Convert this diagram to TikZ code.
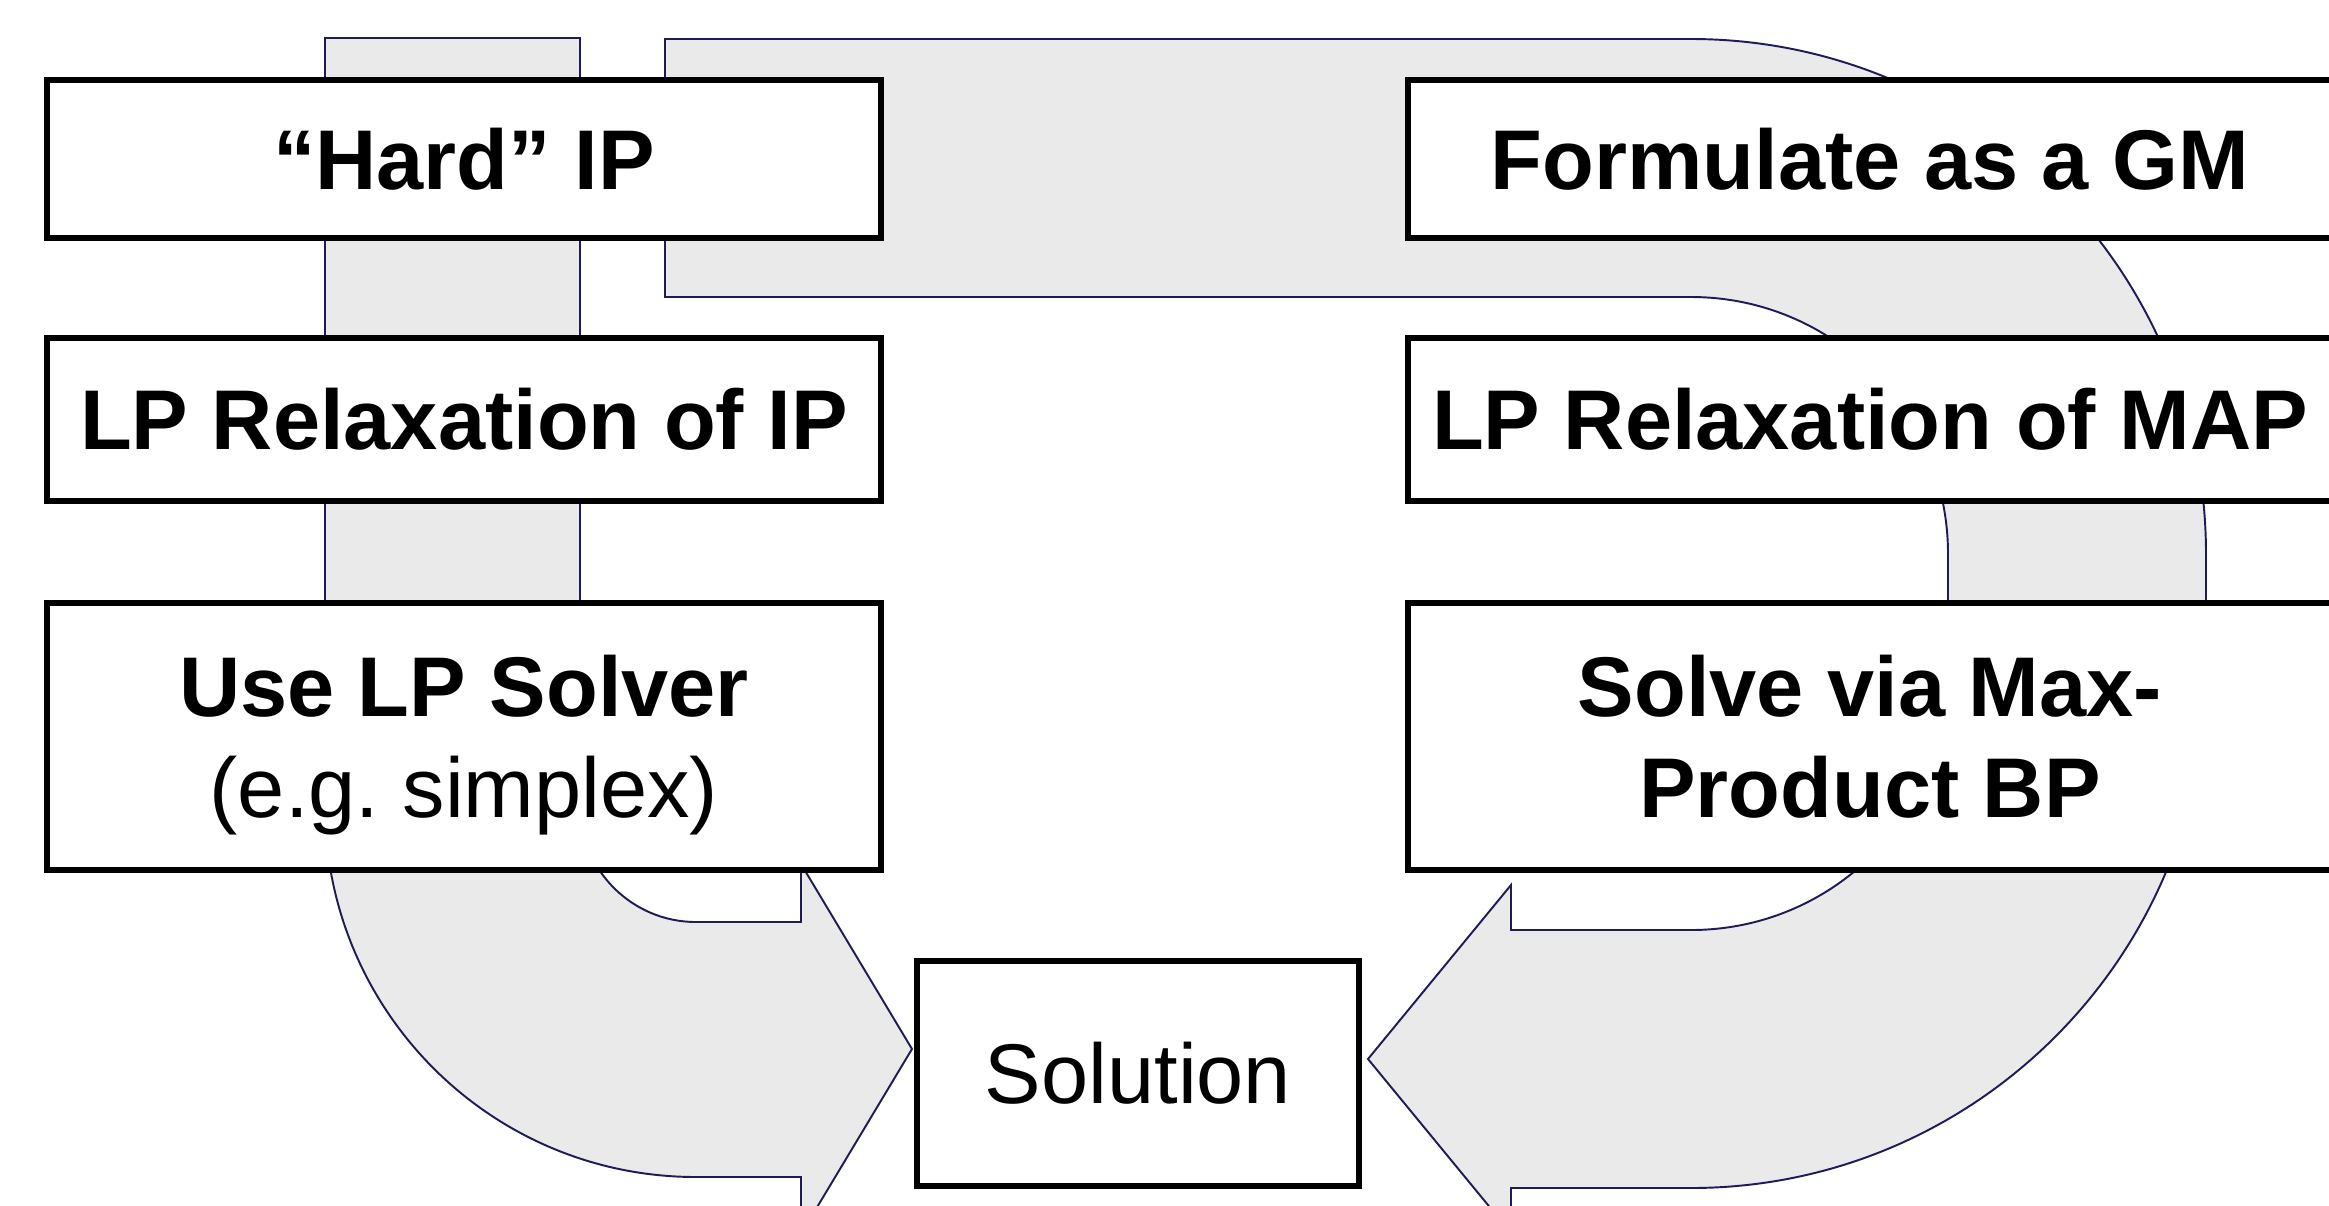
\documentclass[tikz,border=0pt]{standalone}
\usepackage{fontspec}
\setmainfont{Liberation Sans}
\usetikzlibrary{shapes,arrows}
\definecolor{bandfill}{RGB}{234,234,234}
\definecolor{bandline}{RGB}{30,28,86}
\newcommand{\boxfont}{\fontsize{24.1}{28.7}\selectfont}
\tikzset{
  Step/.style = {draw=black, fill=white, line width=1.8pt, align=center,
                 inner sep=0pt, font=\boxfont\bfseries},
  Band/.style = {fill=bandfill, draw=bandline, line width=0.55pt, line join=miter}
}

\begin{document}
\begin{tikzpicture}[x=0.01cm,y=-0.01cm]
	\useasboundingbox (0,0) rectangle (2329,1205);
	\clip (0,0) rectangle (2329,1205);
	% left band: IP route down to the solution
	\draw[Band] (325,38) -- (580,38) -- (580,806)
	  .. controls (580,870) and (632,922) .. (696,922) -- (801,922)
	  -- (801,864) -- (912,1049) -- (801,1234) -- (801,1177) -- (696,1177)
	  .. controls (491,1177) and (325,1011) .. (325,806) -- cycle;
	% right band: GM route round to the solution
	\draw[Band] (665,39) -- (1691,39)
	  .. controls (1975,39) and (2206,270) .. (2206,554) -- (2206,673)
	  .. controls (2206,957) and (1975,1188) .. (1691,1188) -- (1511,1188)
	  -- (1511,1233) -- (1368,1059) -- (1511,885) -- (1511,930) -- (1691,930)
	  .. controls (1833,930) and (1948,815) .. (1948,673) -- (1948,554)
	  .. controls (1948,412) and (1833,297) .. (1691,297) -- (665,297) -- cycle;
	% boxes
	\node[Step, minimum width=8.34cm, minimum height=1.58cm] (hard) at (464,159) {“Hard” IP};
	\node[Step, minimum width=8.34cm, minimum height=1.63cm] (lpip) at (464,419.5) {LP Relaxation of IP};
	\node[Step, minimum width=8.34cm, minimum height=2.67cm, text depth=0pt] (solver) at (464,736.5)
	  {Use LP Solver\\{\mdseries (e.g.\ simplex)}};
	\node[Step, minimum width=9.24cm, minimum height=1.58cm] (gm) at (1870,159) {Formulate as a GM};
	\node[Step, minimum width=9.24cm, minimum height=1.63cm] (lpmap) at (1870,419.5) {LP Relaxation of MAP};
	\node[Step, minimum width=9.24cm, minimum height=2.67cm] (maxprod) at (1870,736.5)
	  {Solve via Max-\\Product BP};
	\node[Step, font=\boxfont, minimum width=4.42cm, minimum height=2.25cm] (sol) at (1138,1073.5) {Solution};
\end{tikzpicture}
\end{document}
